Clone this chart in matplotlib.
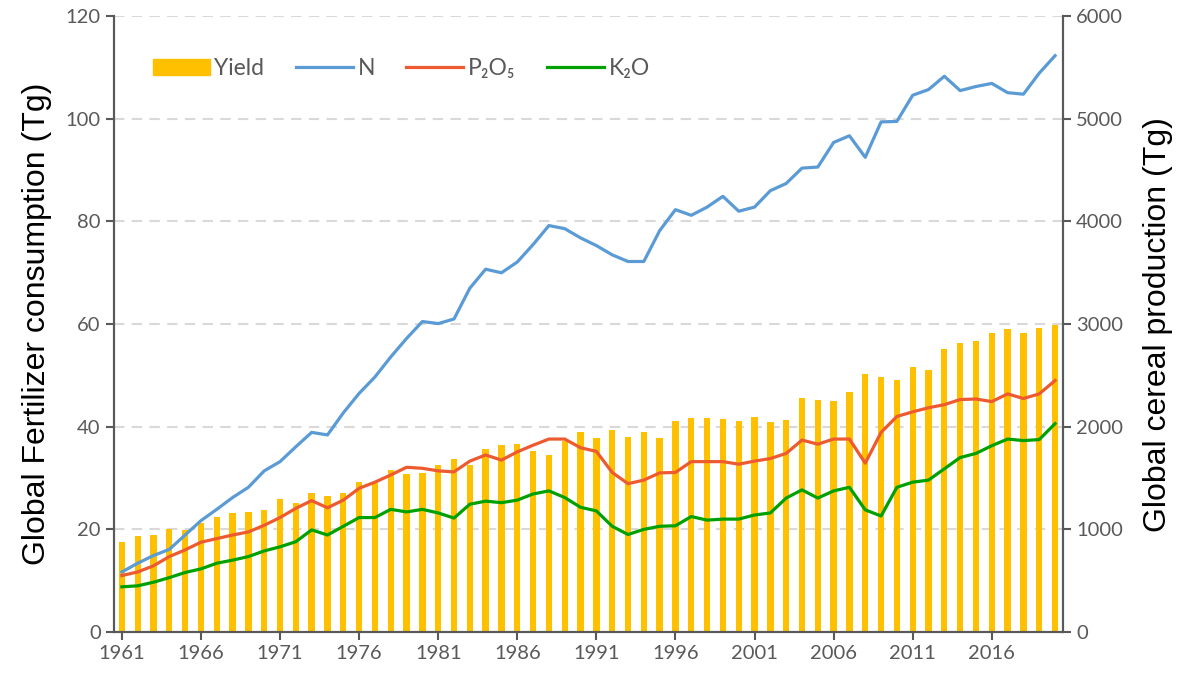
import numpy as np
import matplotlib
matplotlib.use("Agg")
import matplotlib.pyplot as plt
from matplotlib.patches import Patch
from matplotlib.lines import Line2D

years = list(range(1961, 2021))

# cereal production (Tg), right axis
yield_tg = [874, 932, 945, 1000, 993, 1065, 1120, 1156, 1169, 1188,
            1295, 1256, 1354, 1325, 1354, 1460, 1450, 1578, 1536, 1549,
            1630, 1685, 1624, 1783, 1819, 1828, 1766, 1724, 1860, 1948,
            1887, 1968, 1898, 1947, 1895, 2054, 2089, 2082, 2078, 2054,
            2096, 2047, 2068, 2280, 2260, 2249, 2343, 2514, 2487, 2456,
            2581, 2554, 2757, 2812, 2832, 2913, 2956, 2910, 2964, 2995]

# fertilizer consumption (Tg), left axis
n_tg = [11.7, 13.4, 14.9, 16.1, 18.9, 21.7, 23.9, 26.2, 28.2, 31.4,
        33.2, 36.1, 38.9, 38.4, 42.7, 46.5, 49.7, 53.6, 57.2, 60.5,
        60.1, 61.0, 67.0, 70.7, 70.0, 72.1, 75.5, 79.2, 78.6, 76.8,
        75.3, 73.5, 72.2, 72.2, 78.2, 82.3, 81.2, 82.8, 84.9, 82.0,
        82.8, 86.0, 87.4, 90.4, 90.6, 95.4, 96.7, 92.5, 99.4, 99.5,
        104.6, 105.7, 108.3, 105.5, 106.3, 106.9, 105.1, 104.8, 108.9, 112.3]

p2o5_tg = [11.0, 11.7, 12.9, 14.7, 16.0, 17.5, 18.2, 18.9, 19.5, 20.8,
           22.3, 24.1, 25.6, 24.2, 25.7, 28.0, 29.2, 30.6, 32.1, 31.9,
           31.4, 31.2, 33.3, 34.5, 33.5, 35.1, 36.4, 37.6, 37.6, 35.9,
           35.2, 31.1, 28.9, 29.6, 31.0, 31.1, 33.2, 33.2, 33.2, 32.7,
           33.3, 33.8, 34.8, 37.4, 36.6, 37.6, 37.6, 32.9, 38.9, 42.0,
           42.9, 43.7, 44.3, 45.3, 45.4, 44.9, 46.4, 45.5, 46.4, 49.0]

k2o_tg = [8.8, 9.0, 9.7, 10.6, 11.6, 12.3, 13.4, 14.0, 14.7, 15.8,
          16.6, 17.6, 19.9, 18.9, 20.6, 22.3, 22.3, 23.9, 23.4, 23.9,
          23.2, 22.2, 24.9, 25.5, 25.2, 25.7, 26.9, 27.5, 26.2, 24.3,
          23.6, 20.6, 19.0, 20.0, 20.6, 20.7, 22.5, 21.8, 22.0, 22.0,
          22.8, 23.2, 26.1, 27.7, 26.1, 27.5, 28.2, 23.8, 22.6, 28.2,
          29.2, 29.6, 31.8, 34.0, 34.8, 36.3, 37.6, 37.3, 37.5, 40.6]

xticks = list(range(1961, 2021, 5))

gray = "#595959"
plt.rcParams["font.family"] = ["Lato", "DejaVu Sans"]

fig = plt.figure(figsize=(11.87, 6.75), dpi=100)
ax = fig.add_axes([0.096, 0.0637, 0.7995, 0.9123])
ax2 = ax.twinx()

# bars on the right axis, lines on the left axis drawn above
ax2.bar(years, yield_tg, width=0.4, color="#FFC000", zorder=2)
ax2.set_ylim(0, 6000)
ax2.set_yticks(range(0, 6001, 1000))
ax2.set_axisbelow(True)
ax2.yaxis.grid(True, color="#D9D9D9", linestyle=(0, (5, 3.5)), linewidth=1.5)

ax.set_zorder(ax2.get_zorder() + 1)
ax.patch.set_visible(False)
lw = 2.3
ax.plot(years, n_tg, color="#5B9BD5", linewidth=lw, solid_joinstyle="round")
ax.plot(years, p2o5_tg, color="#EE5A30", linewidth=lw, solid_joinstyle="round")
ax.plot(years, k2o_tg, color="#00A000", linewidth=lw, solid_joinstyle="round")
ax.set_ylim(0, 120)
ax.set_yticks(range(0, 121, 20))
ax.set_xlim(1960.5, 2020.5)
ax.set_xticks(xticks)
ax.set_xticklabels([str(y) for y in xticks])

for a in (ax, ax2):
    for s in a.spines.values():
        s.set_color(gray)
        s.set_linewidth(1.5)
    a.spines["top"].set_visible(False)
    a.tick_params(colors=gray, labelsize=14.5, width=1.5, length=6, direction="out")

ax.set_ylabel("Global Fertilizer consumption (Tg)", fontsize=23,
              family=["Liberation Sans"], color="black", labelpad=10)
ax2.set_ylabel("Global cereal production (Tg)", fontsize=23,
               family=["Liberation Sans"], color="black", labelpad=14)

handles = [Patch(color="#FFC000"),
           Line2D([], [], color="#5B9BD5", linewidth=lw),
           Line2D([], [], color="#EE5A30", linewidth=lw),
           Line2D([], [], color="#00A000", linewidth=lw)]
labels = ["Yield", "N", "P₂O₅", "K₂O"]
leg = ax.legend(handles, labels, loc="upper left", bbox_to_anchor=(0.019, 0.965),
                ncol=4, frameon=False, fontsize=16.5, handlelength=2.5,
                handleheight=0.7, columnspacing=1.36, handletextpad=0.2)
for t in leg.get_texts():
    t.set_color(gray)

fig.savefig("out.png", dpi=100)
